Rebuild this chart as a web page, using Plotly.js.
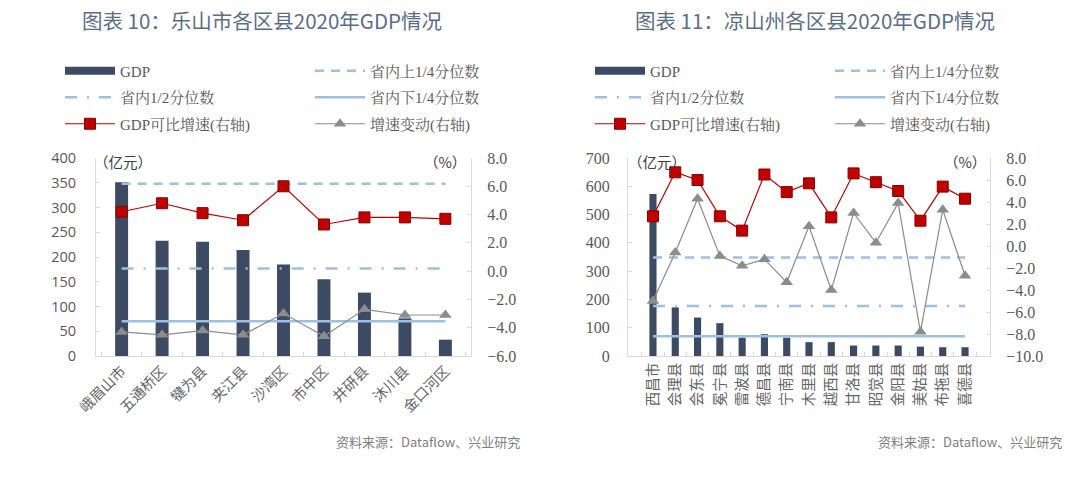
<!DOCTYPE html>
<html>
<head>
<meta charset="utf-8">
<script src="https://cdn.plot.ly/plotly-3.0.1.min.js"></script>
<style>html,body{margin:0;padding:0;background:#fff;}#chart{width:1080px;height:479px;}</style>
</head>
<body>
<div id="chart"></div>
<script>
// ---- Chart 10: 乐山市 ----
const leshanCounties = ['峨眉山市','五通桥区','犍为县','夹江县','沙湾区','市中区','井研县','沐川县','金口河区'];
const leshanGDP = [351, 233, 231, 214, 185, 155, 128, 76, 33];
const leshanGrowth = [4.2, 4.8, 4.1, 3.6, 6.0, 3.3, 3.8, 3.8, 3.7];
const leshanChange = [-4.3, -4.5, -4.2, -4.5, -3.0, -4.6, -2.7, -3.1, -3.1];

// ---- Chart 11: 凉山州 ----
const liangshanCounties = ['西昌市','会理县','会东县','冕宁县','雷波县','德昌县','宁南县','木里县','越西县','甘洛县','昭觉县','金阳县','美姑县','布拖县','喜德县'];
const liangshanGDP = [573, 172, 136, 116, 65, 77, 65, 49, 49, 37, 37, 37, 33, 31, 31];
const liangshanGrowth = [2.7, 6.7, 6.0, 2.7, 1.4, 6.5, 4.9, 5.7, 2.6, 6.6, 5.8, 5.0, 2.3, 5.4, 4.3];
const liangshanChange = [-5.0, -0.6, 4.3, -0.9, -1.8, -1.2, -3.3, 1.8, -4.0, 3.0, 0.3, 3.9, -7.8, 3.3, -2.7];

// ---- Province quartiles (亿元) ----
const provUpperQuartile = 348;
const provMedian = 177;
const provLowerQuartile = 70;

const BAR = '#3d4a64';
const REF = '#9dc0e0';
const RED = '#c00000';
const GRAY = '#8c8c8c';
const SERIF = '"Liberation Serif","Noto Serif CJK SC","Noto Sans CJK SC",serif';
const SANS = '"Noto Sans CJK SC","Noto Sans",sans-serif';
const OPEN = '"Open Sans","Noto Sans",sans-serif';

function makeTraces(cats, gdp, growth, change, xa, ya, ya2, legA, legB) {
  const c = v => cats.map(() => v);
  return [
    {type:'bar', name:'GDP', x:cats, y:gdp, xaxis:xa, yaxis:ya, showlegend:false,
     marker:{color:BAR}},
    // legend-only entry for GDP (thick bar-like swatch, draws no marks)
    {type:'scatter', mode:'lines', name:'GDP', x:cats, y:c(null), xaxis:xa, yaxis:ya, legend:legA, legendgroup:'a'+xa,
     line:{color:BAR, width:8}, hoverinfo:'skip'},
    {type:'scatter', mode:'lines', name:'省内上1/4分位数', x:cats, y:c(provUpperQuartile), xaxis:xa, yaxis:ya, legend:legB, legendgroup:'b'+xa,
     line:{color:REF, width:2.5, dash:'9px,7px'}},
    {type:'scatter', mode:'lines', name:'省内1/2分位数', x:cats, y:c(provMedian), xaxis:xa, yaxis:ya, legend:legA, legendgroup:'c'+xa,
     line:{color:REF, width:2.5, dash:'12px,10px,2px,10px'}},
    {type:'scatter', mode:'lines', name:'省内下1/4分位数', x:cats, y:c(provLowerQuartile), xaxis:xa, yaxis:ya, legend:legB, legendgroup:'d'+xa,
     line:{color:REF, width:2.5}},
    {type:'scatter', mode:'lines+markers', name:'GDP可比增速(右轴)', x:cats, y:growth, xaxis:xa, yaxis:ya2, legend:legA, legendgroup:'e'+xa,
     line:{color:RED, width:1.2}, marker:{symbol:'square', size:11, color:RED, line:{color:'#8a0000', width:1}}},
    {type:'scatter', mode:'lines+markers', name:'增速变动(右轴)', x:cats, y:change, xaxis:xa, yaxis:ya2, legend:legB, legendgroup:'f'+xa,
     line:{color:GRAY, width:1.2}, marker:{symbol:'triangle-up', size:11, color:GRAY}}
  ];
}

const data = [
  ...makeTraces(leshanCounties, leshanGDP, leshanGrowth, leshanChange, 'x', 'y', 'y2', 'legend', 'legend2'),
  ...makeTraces(liangshanCounties, liangshanGDP, liangshanGrowth, liangshanChange, 'x2', 'y3', 'y4', 'legend3', 'legend4')
];

const yDom = [1 - 356/479, 1 - 158/479];
const serifTicks = {family:SERIF, size:16, color:'#595959'};
const sansTicks = {family:OPEN, size:14.5, color:'#595959'};
const catFont = {family:SANS, size:14.5, color:'#666'};
const axLine = '#d9d9d9';

const xBase = {type:'category', showline:true, linecolor:axLine, linewidth:1, showgrid:false, zeroline:false,
  ticks:'inside', tickson:'boundaries', ticklen:4, tickcolor:axLine, tickfont:catFont, fixedrange:true};
const yBase = {showline:true, linecolor:axLine, linewidth:1, showgrid:false, zeroline:false,
  ticks:'inside', ticklen:4, tickcolor:axLine, tickfont:serifTicks, domain:yDom, fixedrange:true};

const legendBase = {orientation:'v', yanchor:'top', xanchor:'left', tracegroupgap:4,
  font:{family:SERIF, size:15, color:'#595959'}, bgcolor:'rgba(0,0,0,0)', itemwidth:50, traceorder:'grouped'};
const legTop = 1 - 54.5/479;

const layout = {
  width:1080, height:479, margin:{l:0,r:0,t:0,b:0},
  paper_bgcolor:'#fff', plot_bgcolor:'#fff',
  bargap:0.68, showlegend:true,
  xaxis: Object.assign({}, xBase, {domain:[96/1080, 471/1080], anchor:'y', tickangle:-45}),
  yaxis: Object.assign({}, yBase, {anchor:'x', range:[0,400], dtick:50, tick0:0, tickfont:sansTicks, ticklabelstandoff:16}),
  yaxis2: Object.assign({}, yBase, {anchor:'x', overlaying:'y', side:'right', range:[-6,8], dtick:2, tick0:0, tickformat:'.1f', ticklabelstandoff:12}),
  xaxis2: Object.assign({}, xBase, {domain:[628/1080, 990/1080], anchor:'y3', tickangle:-90}),
  yaxis3: Object.assign({}, yBase, {anchor:'x2', range:[0,700], dtick:100, tick0:0, ticklabelstandoff:14}),
  yaxis4: Object.assign({}, yBase, {anchor:'x2', overlaying:'y3', side:'right', range:[-10,8], dtick:2, tick0:0, tickformat:'.1f', ticklabelstandoff:12}),
  legend: Object.assign({}, legendBase, {x:60/1080, y:legTop}),
  legend2: Object.assign({}, legendBase, {x:310/1080, y:legTop}),
  legend3: Object.assign({}, legendBase, {x:590/1080, y:legTop}),
  legend4: Object.assign({}, legendBase, {x:830/1080, y:legTop}),
  annotations:[
    {text:'图表 10：乐山市各区县2020年GDP情况', xref:'paper', yref:'paper', x:262/1080, y:1 - 20/479, xanchor:'center', yanchor:'middle', showarrow:false,
     font:{family:SANS, size:20.5, color:'#5a6d86'}},
    {text:'图表 11：凉山州各区县2020年GDP情况', xref:'paper', yref:'paper', x:815/1080, y:1 - 20/479, xanchor:'center', yanchor:'middle', showarrow:false,
     font:{family:SANS, size:20.5, color:'#5a6d86'}},
    {text:'（亿元）', xref:'paper', yref:'paper', x:92/1080, y:1 - 162/479, xanchor:'left', showarrow:false,
     font:{family:SANS, size:14.5, color:'#404040'}},
    {text:'（%）', xref:'paper', yref:'paper', x:468/1080, y:1 - 162/479, xanchor:'right', showarrow:false,
     font:{family:SANS, size:14.5, color:'#404040'}},
    {text:'（亿元）', xref:'paper', yref:'paper', x:626/1080, y:1 - 162/479, xanchor:'left', showarrow:false,
     font:{family:SANS, size:14.5, color:'#404040'}},
    {text:'（%）', xref:'paper', yref:'paper', x:988/1080, y:1 - 162/479, xanchor:'right', showarrow:false,
     font:{family:SANS, size:14.5, color:'#404040'}},
    {text:'资料来源：Dataflow、兴业研究', xref:'paper', yref:'paper', x:522/1080, y:1 - 453/479, xanchor:'right', showarrow:false,
     font:{family:SANS, size:13, color:'#808080'}},
    {text:'资料来源：Dataflow、兴业研究', xref:'paper', yref:'paper', x:1064/1080, y:1 - 453/479, xanchor:'right', showarrow:false,
     font:{family:SANS, size:13, color:'#808080'}}
  ]
};

Plotly.newPlot('chart', data, layout, {displayModeBar:false, staticPlot:true});
</script>
</body>
</html>
